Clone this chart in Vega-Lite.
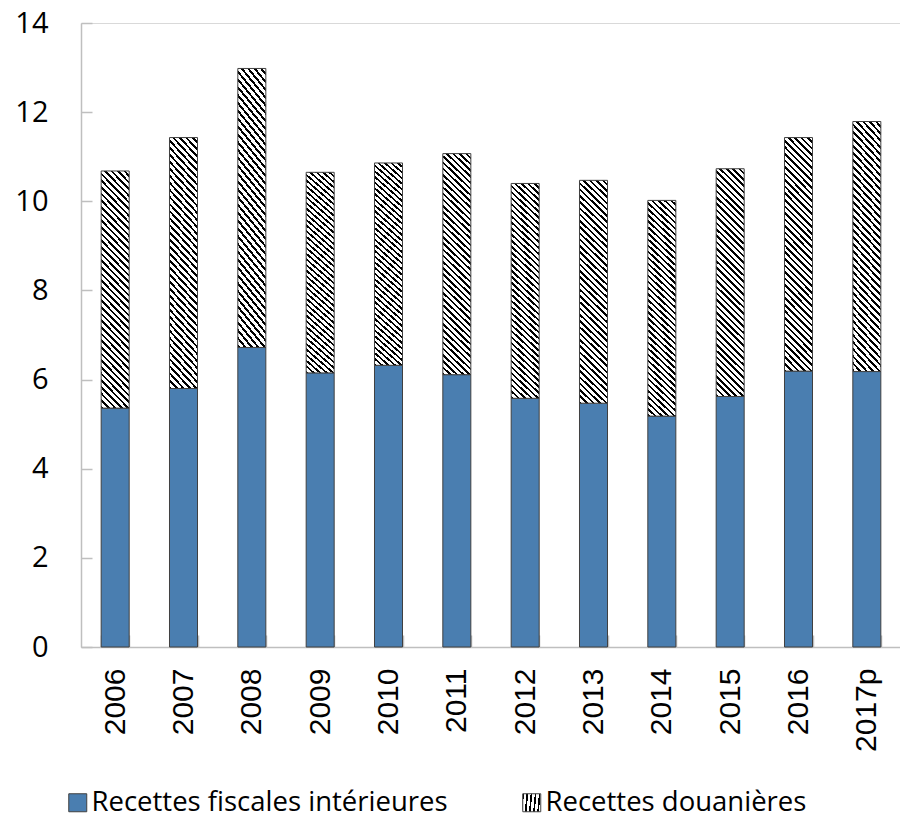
{
  "$schema": "https://vega.github.io/schema/vega-lite/v6.json",
  "autosize": "none",
  "width": 820,
  "height": 624,
  "padding": {"left": 81, "top": 23, "right": 0, "bottom": 171},
  "background": "white",
  "config": {
    "view": {"stroke": "#d9d9d9", "strokeWidth": 1},
    "axis": {"grid": false, "domainColor": "#bfbfbf", "domainWidth": 1.5, "tickColor": "#bfbfbf", "tickWidth": 1.5, "labelColor": "#000000", "title": null}
  },
  "data": {
    "values": [
      {"annee": "2006", "type": "Recettes fiscales intérieures", "valeur": 5.36},
      {"annee": "2006", "type": "Recettes douanières", "valeur": 5.32},
      {"annee": "2007", "type": "Recettes fiscales intérieures", "valeur": 5.80},
      {"annee": "2007", "type": "Recettes douanières", "valeur": 5.63},
      {"annee": "2008", "type": "Recettes fiscales intérieures", "valeur": 6.72},
      {"annee": "2008", "type": "Recettes douanières", "valeur": 6.26},
      {"annee": "2009", "type": "Recettes fiscales intérieures", "valeur": 6.15},
      {"annee": "2009", "type": "Recettes douanières", "valeur": 4.50},
      {"annee": "2010", "type": "Recettes fiscales intérieures", "valeur": 6.32},
      {"annee": "2010", "type": "Recettes douanières", "valeur": 4.54},
      {"annee": "2011", "type": "Recettes fiscales intérieures", "valeur": 6.11},
      {"annee": "2011", "type": "Recettes douanières", "valeur": 4.96},
      {"annee": "2012", "type": "Recettes fiscales intérieures", "valeur": 5.58},
      {"annee": "2012", "type": "Recettes douanières", "valeur": 4.82},
      {"annee": "2013", "type": "Recettes fiscales intérieures", "valeur": 5.47},
      {"annee": "2013", "type": "Recettes douanières", "valeur": 5.00},
      {"annee": "2014", "type": "Recettes fiscales intérieures", "valeur": 5.18},
      {"annee": "2014", "type": "Recettes douanières", "valeur": 4.84},
      {"annee": "2015", "type": "Recettes fiscales intérieures", "valeur": 5.62},
      {"annee": "2015", "type": "Recettes douanières", "valeur": 5.11},
      {"annee": "2016", "type": "Recettes fiscales intérieures", "valeur": 6.19},
      {"annee": "2016", "type": "Recettes douanières", "valeur": 5.24},
      {"annee": "2017p", "type": "Recettes fiscales intérieures", "valeur": 6.18},
      {"annee": "2017p", "type": "Recettes douanières", "valeur": 5.61}
    ]
  },
  "mark": {"type": "bar", "strokeWidth": 1},
  "encoding": {
    "x": {
      "field": "annee", "type": "nominal", "sort": null,
      "scale": {"paddingInner": 0.59, "paddingOuter": 0.295},
      "axis": {"labelAngle": -90, "labelFont": "Liberation Sans", "labelFontSize": 30, "tickSize": -12, "tickBand": "extent", "labelPadding": 33}
    },
    "y": {
      "field": "valeur", "type": "quantitative", "stack": "zero",
      "scale": {"domain": [0, 14], "nice": false},
      "axis": {"values": [0, 2, 4, 6, 8, 10, 12, 14], "labelFont": "Open Sans", "labelFontSize": 29, "tickSize": -11, "labelPadding": 44}
    },
    "order": {"field": "type", "sort": "descending"},
    "stroke": {
      "field": "type", "type": "nominal",
      "scale": {"domain": ["Recettes douanières", "Recettes fiscales intérieures"], "range": ["#404040", "#404040"]},
      "legend": {
        "title": null, "orient": "none", "direction": "horizontal", "legendX": 437, "legendY": 766, "padding": 0,
        "values": ["Recettes douanières"],
        "symbolType": "square", "symbolSize": 324, "symbolStrokeWidth": 1, "symbolOpacity": 1,
        "symbolFillColor": {"gradient": "linear", "x1": 0, "y1": 1, "x2": 1, "y2": 0, "stops": [
                {"offset": 0, "color": "#000"}, {"offset": 0.06, "color": "#000"}, {"offset": 0.06, "color": "#fff"}, {"offset": 0.167, "color": "#fff"},
                {"offset": 0.167, "color": "#000"}, {"offset": 0.227, "color": "#000"}, {"offset": 0.227, "color": "#fff"}, {"offset": 0.333, "color": "#fff"},
                {"offset": 0.333, "color": "#000"}, {"offset": 0.393, "color": "#000"}, {"offset": 0.393, "color": "#fff"}, {"offset": 0.5, "color": "#fff"},
                {"offset": 0.5, "color": "#000"}, {"offset": 0.56, "color": "#000"}, {"offset": 0.56, "color": "#fff"}, {"offset": 0.667, "color": "#fff"},
                {"offset": 0.667, "color": "#000"}, {"offset": 0.727, "color": "#000"}, {"offset": 0.727, "color": "#fff"}, {"offset": 0.833, "color": "#fff"},
                {"offset": 0.833, "color": "#000"}, {"offset": 0.893, "color": "#000"}, {"offset": 0.893, "color": "#fff"}, {"offset": 1, "color": "#fff"}
              ]},
        "labelFont": "Open Sans", "labelFontSize": 27.5, "labelColor": "#000000", "labelOffset": 0, "labelLimit": 500
      }
    },
    "fill": {
      "field": "type", "type": "nominal",
      "scale": {"domain": ["Recettes fiscales intérieures", "Recettes douanières"], "range": ["#4a7eb0", "#777777"]},
      "condition": {"test": "datum.type === 'Recettes douanières'", "value": {"gradient": "linear", "x1": 0, "y1": 1, "x2": 0.135, "y2": -0.107, "stops": [
        {"offset": 0.000, "color": "#000"}, {"offset": 0.010, "color": "#000"}, {"offset": 0.010, "color": "#fff"}, {"offset": 0.025, "color": "#fff"},
        {"offset": 0.025, "color": "#000"}, {"offset": 0.035, "color": "#000"}, {"offset": 0.035, "color": "#fff"}, {"offset": 0.050, "color": "#fff"},
        {"offset": 0.050, "color": "#000"}, {"offset": 0.060, "color": "#000"}, {"offset": 0.060, "color": "#fff"}, {"offset": 0.075, "color": "#fff"},
        {"offset": 0.075, "color": "#000"}, {"offset": 0.085, "color": "#000"}, {"offset": 0.085, "color": "#fff"}, {"offset": 0.100, "color": "#fff"},
        {"offset": 0.100, "color": "#000"}, {"offset": 0.110, "color": "#000"}, {"offset": 0.110, "color": "#fff"}, {"offset": 0.125, "color": "#fff"},
        {"offset": 0.125, "color": "#000"}, {"offset": 0.135, "color": "#000"}, {"offset": 0.135, "color": "#fff"}, {"offset": 0.150, "color": "#fff"},
        {"offset": 0.150, "color": "#000"}, {"offset": 0.160, "color": "#000"}, {"offset": 0.160, "color": "#fff"}, {"offset": 0.175, "color": "#fff"},
        {"offset": 0.175, "color": "#000"}, {"offset": 0.185, "color": "#000"}, {"offset": 0.185, "color": "#fff"}, {"offset": 0.200, "color": "#fff"},
        {"offset": 0.200, "color": "#000"}, {"offset": 0.210, "color": "#000"}, {"offset": 0.210, "color": "#fff"}, {"offset": 0.225, "color": "#fff"},
        {"offset": 0.225, "color": "#000"}, {"offset": 0.235, "color": "#000"}, {"offset": 0.235, "color": "#fff"}, {"offset": 0.250, "color": "#fff"},
        {"offset": 0.250, "color": "#000"}, {"offset": 0.260, "color": "#000"}, {"offset": 0.260, "color": "#fff"}, {"offset": 0.275, "color": "#fff"},
        {"offset": 0.275, "color": "#000"}, {"offset": 0.285, "color": "#000"}, {"offset": 0.285, "color": "#fff"}, {"offset": 0.300, "color": "#fff"},
        {"offset": 0.300, "color": "#000"}, {"offset": 0.310, "color": "#000"}, {"offset": 0.310, "color": "#fff"}, {"offset": 0.325, "color": "#fff"},
        {"offset": 0.325, "color": "#000"}, {"offset": 0.335, "color": "#000"}, {"offset": 0.335, "color": "#fff"}, {"offset": 0.350, "color": "#fff"},
        {"offset": 0.350, "color": "#000"}, {"offset": 0.360, "color": "#000"}, {"offset": 0.360, "color": "#fff"}, {"offset": 0.375, "color": "#fff"},
        {"offset": 0.375, "color": "#000"}, {"offset": 0.385, "color": "#000"}, {"offset": 0.385, "color": "#fff"}, {"offset": 0.400, "color": "#fff"},
        {"offset": 0.400, "color": "#000"}, {"offset": 0.410, "color": "#000"}, {"offset": 0.410, "color": "#fff"}, {"offset": 0.425, "color": "#fff"},
        {"offset": 0.425, "color": "#000"}, {"offset": 0.435, "color": "#000"}, {"offset": 0.435, "color": "#fff"}, {"offset": 0.450, "color": "#fff"},
        {"offset": 0.450, "color": "#000"}, {"offset": 0.460, "color": "#000"}, {"offset": 0.460, "color": "#fff"}, {"offset": 0.475, "color": "#fff"},
        {"offset": 0.475, "color": "#000"}, {"offset": 0.485, "color": "#000"}, {"offset": 0.485, "color": "#fff"}, {"offset": 0.500, "color": "#fff"},
        {"offset": 0.500, "color": "#000"}, {"offset": 0.510, "color": "#000"}, {"offset": 0.510, "color": "#fff"}, {"offset": 0.525, "color": "#fff"},
        {"offset": 0.525, "color": "#000"}, {"offset": 0.535, "color": "#000"}, {"offset": 0.535, "color": "#fff"}, {"offset": 0.550, "color": "#fff"},
        {"offset": 0.550, "color": "#000"}, {"offset": 0.560, "color": "#000"}, {"offset": 0.560, "color": "#fff"}, {"offset": 0.575, "color": "#fff"},
        {"offset": 0.575, "color": "#000"}, {"offset": 0.585, "color": "#000"}, {"offset": 0.585, "color": "#fff"}, {"offset": 0.600, "color": "#fff"},
        {"offset": 0.600, "color": "#000"}, {"offset": 0.610, "color": "#000"}, {"offset": 0.610, "color": "#fff"}, {"offset": 0.625, "color": "#fff"},
        {"offset": 0.625, "color": "#000"}, {"offset": 0.635, "color": "#000"}, {"offset": 0.635, "color": "#fff"}, {"offset": 0.650, "color": "#fff"},
        {"offset": 0.650, "color": "#000"}, {"offset": 0.660, "color": "#000"}, {"offset": 0.660, "color": "#fff"}, {"offset": 0.675, "color": "#fff"},
        {"offset": 0.675, "color": "#000"}, {"offset": 0.685, "color": "#000"}, {"offset": 0.685, "color": "#fff"}, {"offset": 0.700, "color": "#fff"},
        {"offset": 0.700, "color": "#000"}, {"offset": 0.710, "color": "#000"}, {"offset": 0.710, "color": "#fff"}, {"offset": 0.725, "color": "#fff"},
        {"offset": 0.725, "color": "#000"}, {"offset": 0.735, "color": "#000"}, {"offset": 0.735, "color": "#fff"}, {"offset": 0.750, "color": "#fff"},
        {"offset": 0.750, "color": "#000"}, {"offset": 0.760, "color": "#000"}, {"offset": 0.760, "color": "#fff"}, {"offset": 0.775, "color": "#fff"},
        {"offset": 0.775, "color": "#000"}, {"offset": 0.785, "color": "#000"}, {"offset": 0.785, "color": "#fff"}, {"offset": 0.800, "color": "#fff"},
        {"offset": 0.800, "color": "#000"}, {"offset": 0.810, "color": "#000"}, {"offset": 0.810, "color": "#fff"}, {"offset": 0.825, "color": "#fff"},
        {"offset": 0.825, "color": "#000"}, {"offset": 0.835, "color": "#000"}, {"offset": 0.835, "color": "#fff"}, {"offset": 0.850, "color": "#fff"},
        {"offset": 0.850, "color": "#000"}, {"offset": 0.860, "color": "#000"}, {"offset": 0.860, "color": "#fff"}, {"offset": 0.875, "color": "#fff"},
        {"offset": 0.875, "color": "#000"}, {"offset": 0.885, "color": "#000"}, {"offset": 0.885, "color": "#fff"}, {"offset": 0.900, "color": "#fff"},
        {"offset": 0.900, "color": "#000"}, {"offset": 0.910, "color": "#000"}, {"offset": 0.910, "color": "#fff"}, {"offset": 0.925, "color": "#fff"},
        {"offset": 0.925, "color": "#000"}, {"offset": 0.935, "color": "#000"}, {"offset": 0.935, "color": "#fff"}, {"offset": 0.950, "color": "#fff"},
        {"offset": 0.950, "color": "#000"}, {"offset": 0.960, "color": "#000"}, {"offset": 0.960, "color": "#fff"}, {"offset": 0.975, "color": "#fff"},
        {"offset": 0.975, "color": "#000"}, {"offset": 0.985, "color": "#000"}, {"offset": 0.985, "color": "#fff"}, {"offset": 1.000, "color": "#fff"}
      ]}},
      "legend": {
        "title": null, "orient": "none", "direction": "horizontal", "legendX": -17, "legendY": 766, "padding": 0,
        "values": ["Recettes fiscales intérieures"],
        "symbolType": "square", "symbolSize": 324, "symbolStrokeWidth": 1, "symbolStrokeColor": "#404040", "symbolOpacity": 1,
        "labelFont": "Open Sans", "labelFontSize": 27.5, "labelColor": "#000000", "labelOffset": 0, "labelLimit": 500
      }
    }
  }
}
